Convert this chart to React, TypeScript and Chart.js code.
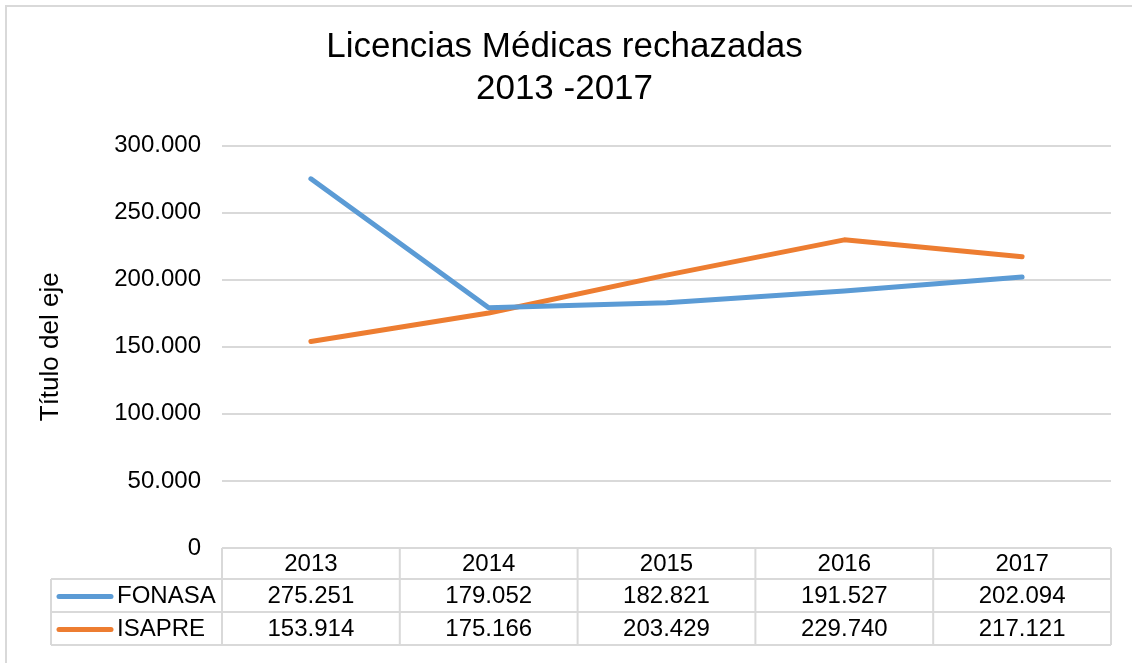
import React, { useEffect, useRef } from "react";
import { Chart, registerables } from "chart.js";

Chart.register(...registerables);

const years = ["2013", "2014", "2015", "2016", "2017"];
const fonasa = [275251, 179052, 182821, 191527, 202094];
const isapre = [153914, 175166, 203429, 229740, 217121];
const seriesNames = ["FONASA", "ISAPRE"];
const seriesColors = ["#5B9BD5", "#ED7D31"];
const titleLines = ["Licencias Médicas rechazadas", "2013 -2017"];
const yAxisTitle = "Título del eje";

const FONT = "Arial, 'Liberation Sans', sans-serif";
const GRID = "#d9d9d9";

function fmt(v: number): string {
  return String(Math.round(v)).replace(/\B(?=(\d{3})+(?!\d))/g, ".");
}

const tablePlugin = {
  id: "excelTable",
  beforeDraw(chart: any) {
    const ctx = chart.ctx;
    ctx.save();
    ctx.fillStyle = "#ffffff";
    ctx.fillRect(0, 0, chart.width, chart.height);
    ctx.restore();
  },
  afterDraw(chart: any) {
    const ctx = chart.ctx;
    const area = chart.chartArea;
    const xs = chart.scales.x;
    const n = years.length;
    const band = (area.right - area.left) / n;
    const labelLeft = 51;
    const rowTops = [area.bottom, area.bottom + 31, area.bottom + 64, area.bottom + 97];
    ctx.save();
    // outer border
    ctx.strokeStyle = GRID;
    ctx.lineWidth = 2;
    ctx.strokeRect(6, 6, 1300, 900);

    // table lines
    ctx.lineWidth = 2;
    ctx.beginPath();
    ctx.moveTo(area.left, rowTops[0]);
    ctx.lineTo(area.right, rowTops[0]);
    for (let r = 1; r < rowTops.length; r++) {
      ctx.moveTo(labelLeft, rowTops[r]);
      ctx.lineTo(area.right, rowTops[r]);
    }
    ctx.moveTo(labelLeft, rowTops[1]);
    ctx.lineTo(labelLeft, rowTops[3]);
    for (let i = 0; i <= n; i++) {
      const x = area.left + band * i;
      ctx.moveTo(x, rowTops[0]);
      ctx.lineTo(x, rowTops[3]);
    }
    ctx.stroke();

    ctx.fillStyle = "#000000";
    ctx.font = "24px " + FONT;
    ctx.textBaseline = "middle";
    ctx.textAlign = "center";
    const rows = [fonasa, isapre];
    for (let i = 0; i < n; i++) {
      const cx = xs.getPixelForValue(i);
      ctx.fillText(years[i], cx, (rowTops[0] + rowTops[1]) / 2 + 1);
      for (let r = 0; r < rows.length; r++) {
        ctx.fillText(fmt(rows[r][i]), cx, (rowTops[r + 1] + rowTops[r + 2]) / 2 + 1);
      }
    }
    ctx.textAlign = "left";
    for (let r = 0; r < rows.length; r++) {
      const cy = (rowTops[r + 1] + rowTops[r + 2]) / 2 + 1;
      ctx.strokeStyle = seriesColors[r];
      ctx.lineWidth = 5;
      ctx.lineCap = "round";
      ctx.beginPath();
      ctx.moveTo(59, cy);
      ctx.lineTo(111, cy);
      ctx.stroke();
      ctx.fillText(seriesNames[r], 117, cy);
    }
    ctx.restore();
  },
};

export default function App() {
  const ref = useRef<HTMLCanvasElement | null>(null);
  useEffect(() => {
    if (!ref.current) return;
    const chart = new Chart(ref.current, {
      type: "line",
      data: {
        labels: years,
        datasets: [
          {
            label: seriesNames[0],
            data: fonasa,
            borderColor: seriesColors[0],
            backgroundColor: seriesColors[0],
            borderWidth: 5,
            pointRadius: 0,
            borderCapStyle: "round",
            borderJoinStyle: "round",
            tension: 0,
          },
          {
            label: seriesNames[1],
            data: isapre,
            borderColor: seriesColors[1],
            backgroundColor: seriesColors[1],
            borderWidth: 5,
            pointRadius: 0,
            borderCapStyle: "round",
            borderJoinStyle: "round",
            tension: 0,
          },
        ],
      },
      options: {
        responsive: false,
        animation: false,
        layout: { padding: { left: 18, right: 21, top: 0, bottom: 115 } },
        plugins: {
          legend: { display: false },
          tooltip: { enabled: false },
          title: {
            display: true,
            text: titleLines,
            color: "#000000",
            font: { family: FONT, size: 35, weight: "normal", lineHeight: 1.18 },
            padding: { top: 27, bottom: 36 },
          },
        },
        scales: {
          x: {
            type: "category",
            offset: true,
            display: false,
          },
          y: {
            min: 0,
            max: 300000,
            afterFit(scale: any) {
              scale.width = 204;
            },
            border: { display: false },
            grid: { color: GRID, lineWidth: 2, drawTicks: false },
            ticks: {
              stepSize: 50000,
              padding: 21,
              color: "#000000",
              font: { family: FONT, size: 24 },
              callback: (v: any) => fmt(Number(v)),
            },
            title: {
              display: true,
              text: yAxisTitle,
              color: "#000000",
              font: { family: FONT, size: 26 },
              padding: { top: 17, bottom: 0 },
            },
          },
        },
      },
      plugins: [tablePlugin],
    });
    return () => chart.destroy();
  }, []);
  return (
    <div style={{ position: "absolute", left: 0, top: 0, width: 1132, height: 663 }}>
      <canvas ref={ref} width={1132} height={663} style={{ display: "block" }} />
    </div>
  );
}
